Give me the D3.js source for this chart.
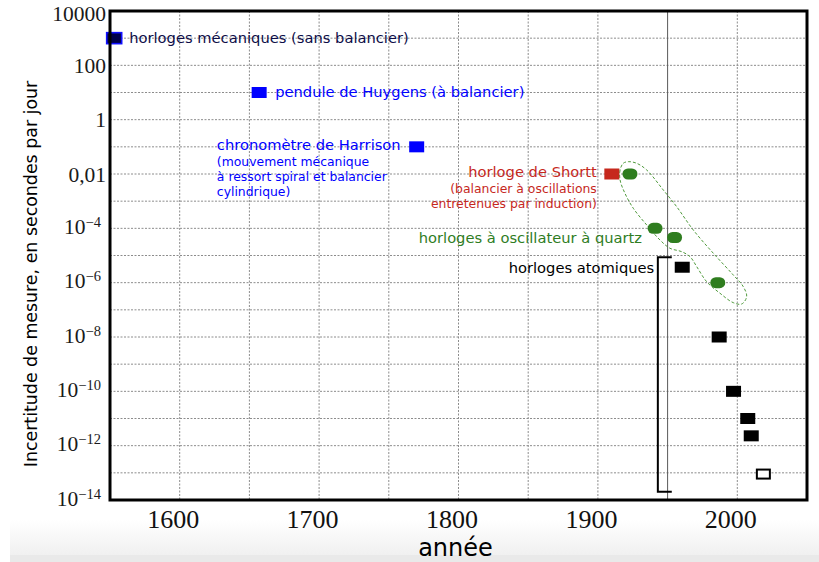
<!DOCTYPE html>
<html>
<head>
<meta charset="utf-8">
<script src="https://cdn.jsdelivr.net/npm/d3@7"></script>
<style>
  html, body { margin: 0; padding: 0; background: #fff; }
  svg { display: block; }
</style>
</head>
<body>
<svg id="chart" width="819" height="562"></svg>
<script>
// Clock precision through history (uncertainty in seconds per day, log scale)
const mechYears = [1553];          const mechValues = [1000];
const huygensYears = [1657];       const huygensValues = [10];
const harrisonYears = [1770];      const harrisonValues = [0.1];
const shorttYears = [1910];        const shorttValues = [0.01];
const quartzYears = [1923, 1941, 1955, 1986];
const quartzValues = [1e-2, 1e-4, 4.6e-5, 1e-6];
const atomicYears = [1960.5, 1987, 1997.3, 2007.5, 2010];
const atomicValues = [3.7e-6, 1e-8, 1e-10, 1e-11, 2.3e-12];
const projectedYears = [2018.7];   const projectedValues = [9e-14];

// bracket grouping the atomic clocks
const bracketYears = [1943, 1953];
const bracketValues = [8.6e-6, 2e-14];

// dashed outline around the quartz clocks (year, log10 of value)
const quartzOutlineYears = [1918.2, 1915.9, 1915.9, 1919.4, 1925.4, 1935.0, 1944.5, 1951.7, 1960.1,
  1966.1, 1970.9, 1978.0, 1987.6, 1997.1, 2003.2, 2006.7, 2004.3, 1997.1, 1982.8, 1968.4,
  1956.5, 1946.9, 1935.0, 1927.8, 1921.8];
const quartzOutlineExp = [-1.605, -1.852, -2.22, -2.71, -3.262, -3.876, -4.428, -4.734, -4.859,
  -5.043, -5.411, -5.963, -6.39, -6.736, -6.784, -6.515, -6.147, -5.717, -4.918, -4.06,
  -3.203, -2.588, -1.852, -1.605, -1.546];

// axes
const xTickValues = [1600, 1700, 1800, 1900, 2000];
const xGridValues = [1600, 1650, 1700, 1750, 1800, 1850, 1900, 2000];
const xRefYear = 1950;
const yTickValues = [1e4, 1e2, 1, 1e-2, 1e-4, 1e-6, 1e-8, 1e-10, 1e-12, 1e-14];
const yTickLabels = ["10000", "100", "1", "0,01", "10|−4", "10|−6", "10|−8", "10|−10", "10|−12", "10|−14"];
const yGridValues = [1e3, 1e2, 1e1, 1, 1e-1, 1e-2, 1e-3, 1e-4, 1e-5, 1e-6, 1e-7, 1e-8, 1e-9,
  1e-10, 1e-11, 1e-12, 1e-13];

const W = 819, H = 562;
const plotL = 110, plotR = 807, plotT = 11, plotB = 500;
const svg = d3.select("#chart");

const x = d3.scaleLinear().domain([1550, 2050]).range([plotL, plotR]);
const y = d3.scaleLog().domain([1e-14, 1e4]).range([plotB, plotT]);

// soft grey band along the bottom edge
const defs = svg.append("defs");
const grad = defs.append("linearGradient").attr("id", "floor").attr("x1", 0).attr("y1", 0).attr("x2", 0).attr("y2", 1);
grad.append("stop").attr("offset", "0%").attr("stop-color", "#ffffff");
grad.append("stop").attr("offset", "100%").attr("stop-color", "#f0f0f0");
svg.append("rect").attr("x", 10).attr("y", 520).attr("width", W - 10).attr("height", 35).attr("fill", "url(#floor)");
svg.append("rect").attr("x", 10).attr("y", 555).attr("width", W - 10).attr("height", 7).attr("fill", "#e9e9e9");

// grid
const grid = svg.append("g");
grid.selectAll("line.h").data(yGridValues).join("line")
  .attr("x1", plotL).attr("x2", plotR)
  .attr("y1", d => y(d)).attr("y2", d => y(d))
  .attr("stroke", "#8c8c8c").attr("stroke-width", 1).attr("stroke-dasharray", "2,1.5");
grid.selectAll("line.v").data(xGridValues).join("line")
  .attr("x1", d => x(d)).attr("x2", d => x(d))
  .attr("y1", plotT).attr("y2", plotB)
  .attr("stroke", "#8c8c8c").attr("stroke-width", 1).attr("stroke-dasharray", "2,1.5");
grid.append("line")
  .attr("x1", x(xRefYear)).attr("x2", x(xRefYear)).attr("y1", plotT).attr("y2", plotB)
  .attr("stroke", "#5a5a5a").attr("stroke-width", 1);

// x axis
const xAxis = svg.append("g").attr("transform", `translate(0,${plotB})`)
  .call(d3.axisBottom(x).tickValues(xTickValues).tickSize(0).tickFormat(d => String(d)));
xAxis.select(".domain").remove();
xAxis.selectAll("text")
  .attr("x", -7).attr("y", 27.5).attr("dy", null)
  .attr("font-family", "'Liberation Serif', serif").attr("font-size", 26).attr("fill", "#111");

// y axis with exponent labels
const yAxis = svg.append("g").attr("transform", `translate(${plotL},0)`)
  .call(d3.axisLeft(y).tickValues(yTickValues).tickSize(0).tickFormat(""));
yAxis.select(".domain").remove();
yAxis.selectAll(".tick").each(function (d, i) {
  const t = d3.select(this).select("text")
    .attr("dy", null).attr("text-anchor", "end")
    .attr("font-family", "'Liberation Serif', serif").attr("font-size", 21.5).attr("fill", "#1a1a1a");
  const parts = yTickLabels[i].split("|");
  if (parts.length === 1) {
    const yy = y(d);
    t.attr("x", -4).attr("y", Math.max(7, plotT + 9.7 - yy)).text(parts[0]);
  } else {
    t.attr("x", -9).attr("y", 5);
    t.append("tspan").text(parts[0]);
    t.append("tspan").attr("font-size", 14.5).attr("dy", -7).text(parts[1]);
  }
});

// quartz outline
const outline = d3.line()
  .x((d, i) => x(quartzOutlineYears[i]))
  .y((d, i) => y(Math.pow(10, quartzOutlineExp[i])))
  .curve(d3.curveCatmullRomClosed);
svg.append("path").attr("d", outline(quartzOutlineYears))
  .attr("fill", "none").attr("stroke", "#4f9a3c").attr("stroke-width", 1).attr("stroke-dasharray", "3,2");

// atomic bracket
svg.append("path")
  .attr("d", `M${x(bracketYears[1])},${y(bracketValues[0])}H${x(bracketYears[0])}V${y(bracketValues[1])}H${x(bracketYears[1])}`)
  .attr("fill", "none").attr("stroke", "#000").attr("stroke-width", 2);

const mw = 15, mh = 11;
function boxes(years, values, opts) {
  return svg.append("g").selectAll("rect").data(years).join("rect")
    .attr("x", d => x(d) - mw / 2)
    .attr("y", (d, i) => y(values[i]) - mh / 2)
    .attr("width", mw).attr("height", mh)
    .attr("rx", opts.rx || 0)
    .attr("fill", opts.fill)
    .attr("stroke", opts.stroke || "none")
    .attr("stroke-width", opts.sw || 0);
}
boxes(mechYears, mechValues, { fill: "#00004a", stroke: "#1010ff", sw: 1.6 });
boxes(huygensYears, huygensValues, { fill: "#0000ff" });
boxes(harrisonYears, harrisonValues, { fill: "#0000ff" });
boxes(shorttYears, shorttValues, { fill: "#c6281d" });
boxes(quartzYears, quartzValues, { fill: "#2f7d1f", rx: 5.5 });
boxes(atomicYears, atomicValues, { fill: "#000" });
svg.append("g").selectAll("rect").data(projectedYears).join("rect")
  .attr("x", d => x(d) - 6.5)
  .attr("y", (d, i) => y(projectedValues[i]) - 4.5)
  .attr("width", 13).attr("height", 9)
  .attr("fill", "#fff").attr("stroke", "#000").attr("stroke-width", 2);

// annotations
const sans = "'DejaVu Sans', sans-serif";
function label(px, py, txt, size, color, anchor) {
  return svg.append("text").attr("x", px).attr("y", py)
    .attr("font-family", sans).attr("font-size", size).attr("fill", color)
    .attr("text-anchor", anchor || "start").text(txt);
}
const big = 14.7, small = 12.4;

label(x(mechYears[0]) + 15, y(mechValues[0]) + 5, "horloges mécaniques (sans balancier)", big, "#0d0d48");
label(x(huygensYears[0]) + 16, y(huygensValues[0]) + 4.5, "pendule de Huygens (à balancier)", big, "#0000ff");

const hx = x(harrisonYears[0]), hy = y(harrisonValues[0]);
const hMain = label(hx - 16, hy + 2.8, "chronomètre de Harrison", big, "#0000ff", "end");
const hStart = hx - 16 - hMain.node().getComputedTextLength();
["(mouvement mécanique", "à ressort spiral et balancier", "cylindrique)"].forEach((s, i) =>
  label(hStart, hy + 19.2 + i * 15.2, s, small, "#0000ff"));

const sx = x(shorttYears[0]), sy = y(shorttValues[0]);
label(sx - 15, sy + 2.5, "horloge de Shortt", big, "#c6281d", "end");
label(sx - 15, sy + 18.5, "(balancier à oscillations", small, "#c6281d", "end");
label(sx - 15, sy + 33.5, "entretenues par induction)", small, "#c6281d", "end");

label(x(quartzYears[1]) - 13, y(quartzValues[1]) + 14.4, "horloges à oscillateur à quartz", big, "#2f7d1f", "end");
label(x(atomicYears[0]) - 28, y(atomicValues[0]) + 5.4, "horloges atomiques", big, "#000", "end");

// frame
svg.append("rect").attr("x", plotL).attr("y", plotT).attr("width", plotR - plotL).attr("height", plotB - plotT)
  .attr("fill", "none").attr("stroke", "#000").attr("stroke-width", 3);

// axis titles
svg.append("text")
  .attr("transform", `translate(37,274) rotate(-90)`)
  .attr("text-anchor", "middle").attr("font-family", sans).attr("font-size", 17.4).attr("fill", "#000")
  .text("Incertitude de mesure, en secondes par jour");
svg.append("text")
  .attr("x", (plotL + plotR) / 2 - 3).attr("y", 556)
  .attr("text-anchor", "middle").attr("font-family", sans).attr("font-size", 24).attr("fill", "#000")
  .text("année");
</script>
</body>
</html>
